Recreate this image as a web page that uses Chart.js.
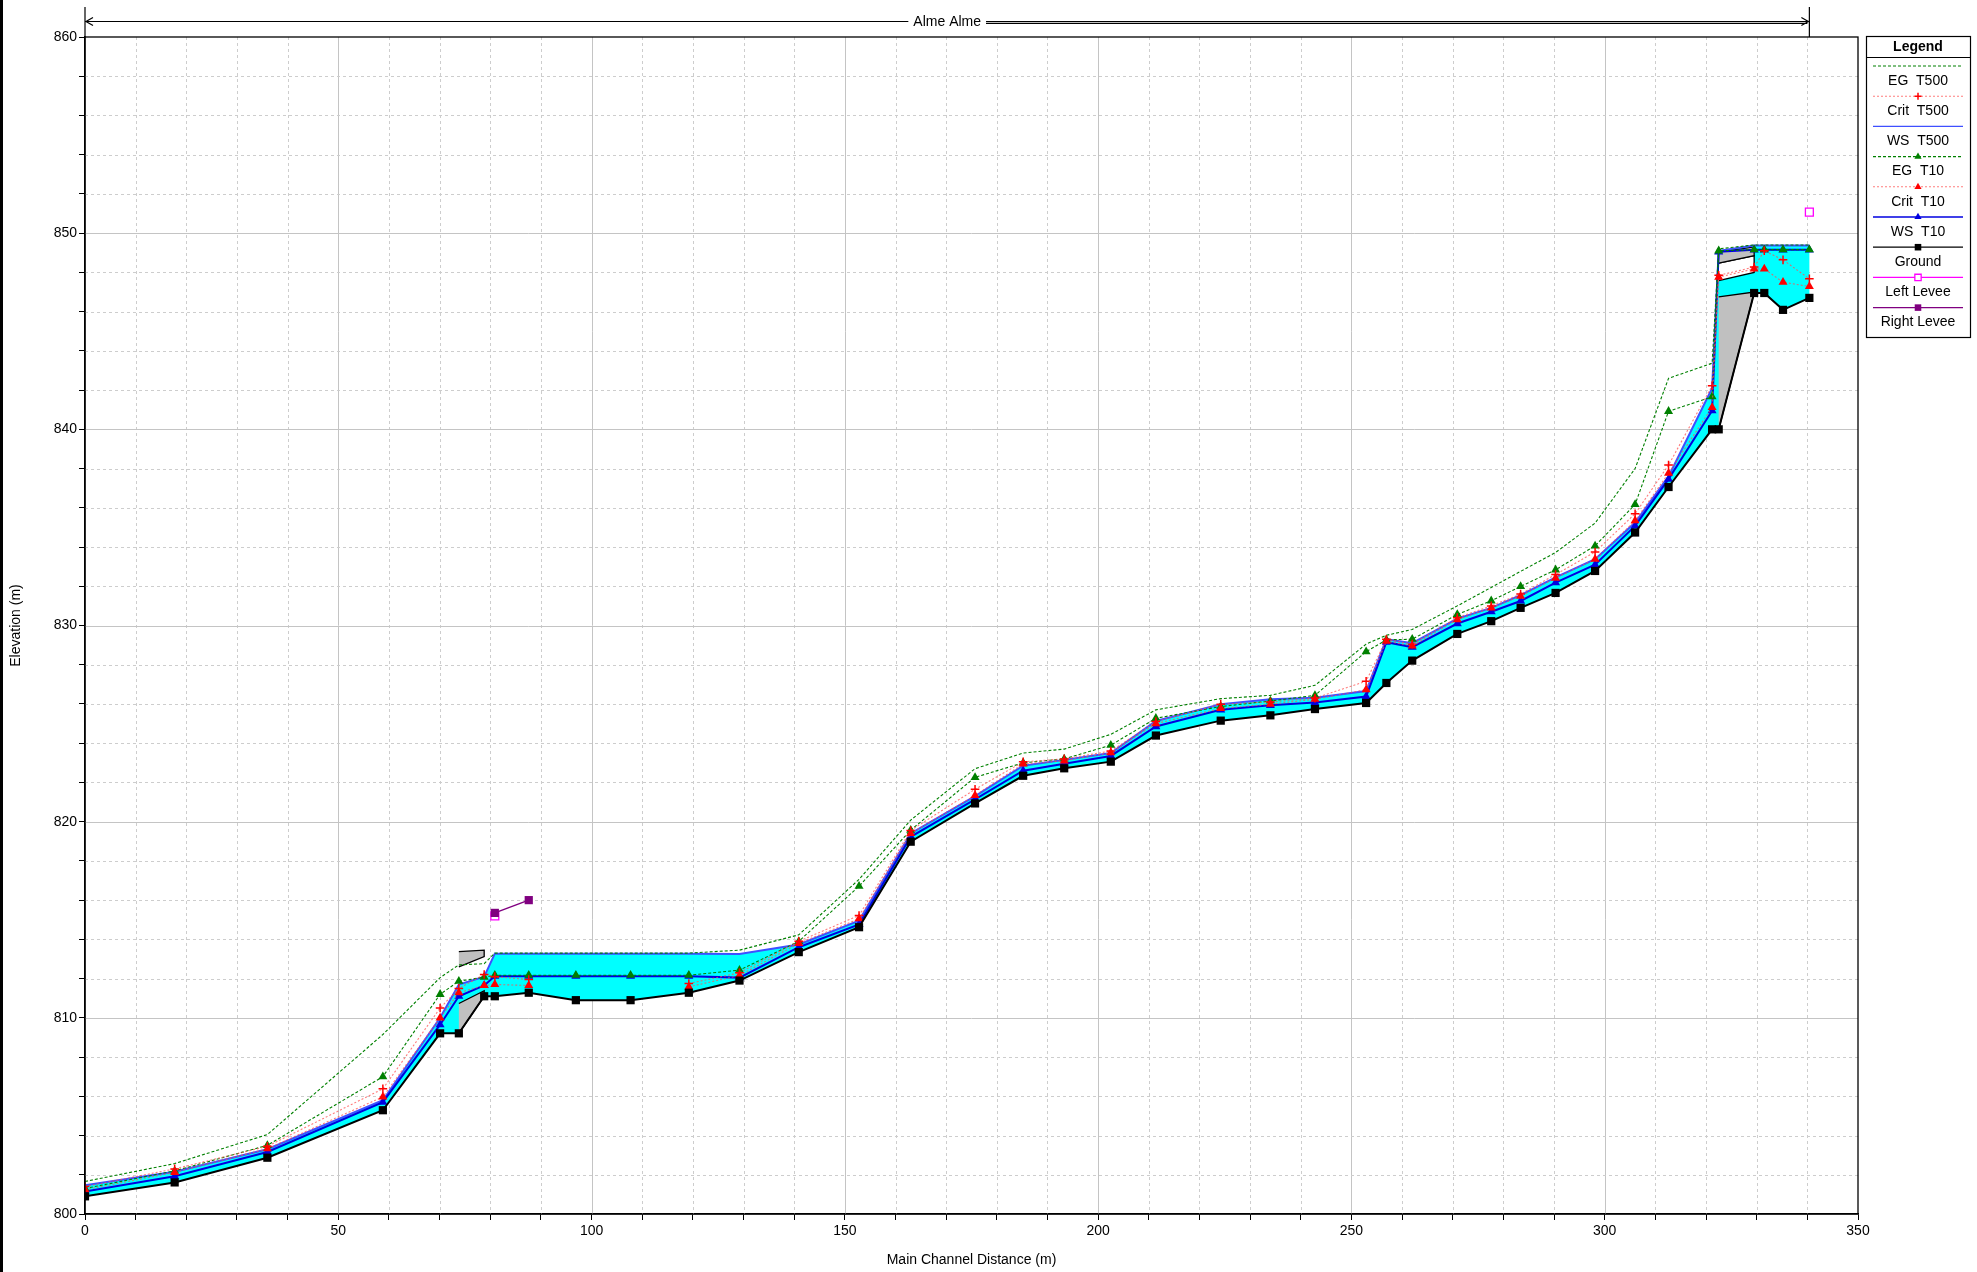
<!DOCTYPE html>
<html>
<head>
<meta charset="utf-8">
<title>Alme Alme - profile</title>
<script src="https://cdn.jsdelivr.net/npm/chart.js@4.4.1/dist/chart.umd.min.js"></script>
<style>
  html, body { margin: 0; padding: 0; background: #fff; }
  canvas { display: block; }
</style>
</head>
<body>
<canvas id="profile" width="1977" height="1272"></canvas>
<script>
// main channel stations (m) and the profile elevations at each one (m)
const stations = [0, 17.7, 36.0, 58.8, 70.1, 73.8, 78.8, 80.9, 87.6, 96.9,
  107.7, 119.2, 129.2, 140.9, 152.8, 163.0, 175.7, 185.2, 193.3, 202.5,
  211.4, 224.2, 234.0, 242.8, 252.9, 256.9, 262.0, 270.9, 277.6, 283.4,
  290.3, 298.1, 306.0, 312.6, 321.2, 322.5, 329.5, 331.5, 335.2, 340.4];

const ground = [800.9, 801.61, 802.87, 805.29, 809.21, 809.21, 811.1, 811.1, 811.28, 810.9,
  810.9, 811.28, 811.9, 813.35, 814.62, 818.98, 820.93, 822.34, 822.72, 823.06,
  824.39, 825.15, 825.42, 825.74, 826.05, 827.07, 828.21, 829.57, 830.22, 830.9,
  831.66, 832.78, 834.74, 837.06, 840.0, 840.0, 846.95, 846.95, 846.09, 846.7];

const wsT500 = [801.46, 802.15, 803.3, 805.8, 810.0, 811.7, 812.1, 813.27, 813.27, 813.27,
  813.27, 813.27, 813.25, 813.74, 814.95, 819.4, 821.3, 822.85, 823.15, 823.5,
  825.13, 825.98, 826.24, 826.32, 826.66, 829.3, 829.1, 830.35, 830.9, 831.55,
  832.45, 833.38, 835.25, 837.6, 842.1, 849.1, 849.37, 849.37, 849.37, 849.37];

const wsT10 = [801.15, 801.92, 803.16, 805.7, 809.65, 811.1, 811.65, 812.12, 812.12, 812.12,
  812.12, 812.12, 812.05, 813.6, 814.76, 819.23, 821.14, 822.6, 822.95, 823.35,
  824.85, 825.7, 825.93, 826.07, 826.38, 829.15, 828.9, 830.1, 830.7, 831.25,
  832.19, 833.1, 835.08, 837.46, 840.95, 849.05, 849.15, 849.15, 849.15, 849.15];

const critT500 = [801.4, 802.3, 803.45, 806.38, 810.5, 811.5, 812.21, 812.1, 811.95, null,
  null, 811.75, 812.3, 813.9, 815.22, 819.55, 821.65, 823.05, 823.2, 823.6,
  825.1, 825.99, 826.1, 826.3, 827.16, 829.3, 829.05, 830.4, 831.0, 831.6,
  832.6, 833.75, 835.7, 838.18, 842.22, 847.85, 848.27, 849.1, 848.64, 847.67];

const critT10 = [801.24, 802.12, 803.33, 805.97, 810.0, 811.28, 811.65, 811.7, 811.65, null,
  null, 811.58, 812.16, 813.8, 815.05, 819.4, 821.34, 822.95, 823.1, 823.52,
  825.0, 825.77, 825.99, 826.24, 826.73, 829.2, 828.96, 830.3, 830.9, 831.5,
  832.42, 833.38, 835.34, 837.76, 841.12, 847.76, 848.18, 848.18, 847.5, 847.28];

const egT500 = [801.66, 802.57, 804.05, 809.15, 812.05, 812.7, 812.76, 813.3, 813.3, 813.3,
  813.3, 813.3, 813.45, 814.23, 817.06, 820.08, 822.7, 823.5, 823.7, 824.45,
  825.7, 826.27, 826.44, 826.95, 829.05, 829.5, 829.8, 831.0, 831.94, 832.76,
  833.72, 835.22, 838.0, 842.6, 843.37, 849.2, 849.4, 849.4, 849.4, 849.4];

const egT10 = [801.3, 802.2, 803.5, 807.0, 811.2, 811.87, 812.07, 812.17, 812.17, 812.17,
  812.17, 812.17, 812.43, 813.9, 816.71, 819.57, 822.26, 823.0, 823.2, 823.9,
  825.27, 825.87, 826.15, 826.44, 828.67, 829.27, 829.3, 830.56, 831.26, 831.99,
  832.84, 834.06, 836.17, 840.92, 841.66, 849.1, 849.16, 849.16, 849.16, 849.16];

const leftLevee = [null, null, null, null, null, null, null, 815.2, null, null,
  null, null, null, null, null, null, null, null, null, null,
  null, null, null, null, null, null, null, null, null, null,
  null, null, null, null, null, null, null, null, null, 851.07];

const rightLevee = [null, null, null, null, null, null, null, 815.35, 816.0, null,
  null, null, null, null, null, null, null, null, null, null,
  null, null, null, null, null, null, null, null, null, null,
  null, null, null, null, null, null, null, null, null, null];

// bridges: face stations, deck high / low chord, fill under the deck
const bridgeFaces = [[73.8, 78.8], [322.5, 329.5]];
const deckHigh = [[813.38, 813.45], [849.03, 849.3]];
const deckLow = [[812.6, 813.12], [848.47, 848.85]];
const bridgeFloor = [[810.73, 811.38], [846.75, 847.0]];
const bridgeBed = [[809.21, 811.1], [840.0, 846.95]];
// water line inside the upstream bridge
const bridgeWater = [847.58, 848.0];

const reachName = 'Alme Alme';

const FONT = '"Liberation Sans", Arial, sans-serif';
const GREEN = '#008000', PINK = 'rgba(255,80,80,0.75)', RED = '#ff0000';
const BLUE500 = '#3f4fff', BLUE10 = '#0000e0';

const pts = (ys) => stations.map((x, i) => ({ x, y: ys[i] }));

// water area between ground and the T500 water surface
const wetArea = pts(wsT500).concat(pts(ground).reverse());

function quad(xs, top, bottom) {
  return [{ x: xs[0], y: top[0] }, { x: xs[1], y: top[1] },
          { x: xs[1], y: bottom[1] }, { x: xs[0], y: bottom[0] }];
}

const shape = (label, data, color, border) => ({
  label, data, fill: 'shape', backgroundColor: color,
  borderColor: border || 'rgba(0,0,0,0)', borderWidth: border ? 1.3 : 0,
  pointRadius: 0, tension: 0
});

const series = (label, ys, opt) => Object.assign({
  label, data: pts(ys), fill: false, tension: 0, spanGaps: false,
  borderWidth: 1.2, pointRadius: 0
}, opt);

// drawn bottom to top
const layers = [
  shape('wet', wetArea, '#00ffff'),
  shape('air', quad(bridgeFaces[1], deckLow[1], bridgeWater), '#ffffff', '#000'),
  shape('deck1', quad(bridgeFaces[0], deckHigh[0], deckLow[0]), '#c0c0c0', '#000'),
  shape('deck2', quad(bridgeFaces[1], deckHigh[1], deckLow[1]), '#c0c0c0', '#000'),
  shape('floor1', quad(bridgeFaces[0], bridgeFloor[0], bridgeBed[0]), '#c0c0c0', '#000'),
  shape('floor2', quad(bridgeFaces[1], bridgeFloor[1], bridgeBed[1]), '#c0c0c0', '#000'),
  series('WS  T500', wsT500, { borderColor: BLUE500, borderWidth: 2 }),
  series('WS  T10', wsT10, { borderColor: BLUE10, borderWidth: 2, pointStyle: 'triangle',
    pointRadius: 5.2, pointBackgroundColor: BLUE10, pointBorderColor: BLUE10, pointBorderWidth: 0 }),
  series('EG  T500', egT500, { borderColor: GREEN, borderDash: [3, 2], borderWidth: 1.1 }),
  series('EG  T10', egT10, { borderColor: GREEN, borderDash: [3, 2], borderWidth: 1.1, pointStyle: 'triangle',
    pointRadius: 5.2, pointBackgroundColor: GREEN, pointBorderColor: GREEN, pointBorderWidth: 0 }),
  series('Crit  T500', critT500, { borderColor: PINK, borderDash: [2, 2], borderWidth: 1.1, pointStyle: 'cross',
    pointRadius: 4.3, pointBorderColor: RED, pointBorderWidth: 1.5 }),
  series('Crit  T10', critT10, { borderColor: PINK, borderDash: [2, 2], borderWidth: 1.1, pointStyle: 'triangle',
    pointRadius: 5.2, pointBackgroundColor: RED, pointBorderColor: RED, pointBorderWidth: 0 }),
  series('Ground', ground, { borderColor: '#000', borderWidth: 2, pointStyle: 'rect',
    pointRadius: 5.8, pointBackgroundColor: '#000', pointBorderColor: '#000', pointBorderWidth: 0 }),
  series('Left Levee', leftLevee, { borderColor: '#ff00ff', borderWidth: 1.5, pointStyle: 'rect',
    pointRadius: 5.6, pointBackgroundColor: '#fff', pointBorderColor: '#ff00ff', pointBorderWidth: 1.3 }),
  series('Right Levee', rightLevee, { borderColor: '#800080', borderWidth: 1.5, pointStyle: 'rect',
    pointRadius: 5.8, pointBackgroundColor: '#800080', pointBorderColor: '#800080', pointBorderWidth: 0 })
];
layers.forEach((d, i) => { d.order = layers.length - i; });

// legend order
const legendOrder = ['EG  T500', 'Crit  T500', 'WS  T500', 'EG  T10', 'Crit  T10',
  'WS  T10', 'Ground', 'Left Levee', 'Right Levee'];

function marker(ctx, style, x, y, r, fill, stroke, lw) {
  ctx.save();
  ctx.beginPath();
  if (style === 'triangle') {
    let a = 0;
    ctx.moveTo(x + Math.sin(a) * r, y - Math.cos(a) * r);
    a += 2 * Math.PI / 3;
    ctx.lineTo(x + Math.sin(a) * r, y - Math.cos(a) * r);
    a += 2 * Math.PI / 3;
    ctx.lineTo(x + Math.sin(a) * r, y - Math.cos(a) * r);
    ctx.closePath();
    ctx.fillStyle = fill; ctx.fill();
  } else if (style === 'rect') {
    const s = r * Math.SQRT1_2;
    ctx.rect(x - s, y - s, 2 * s, 2 * s);
    ctx.fillStyle = fill; ctx.fill();
    if (lw) { ctx.lineWidth = lw; ctx.strokeStyle = stroke; ctx.stroke(); }
  } else if (style === 'cross') {
    ctx.moveTo(x - r, y); ctx.lineTo(x + r, y);
    ctx.moveTo(x, y - r); ctx.lineTo(x, y + r);
    ctx.lineWidth = lw; ctx.strokeStyle = stroke; ctx.stroke();
  }
  ctx.restore();
}

const frame = {
  id: 'frame',
  beforeDatasetsDraw(chart) {
    const { ctx, chartArea: a, scales: { x, y } } = chart;
    ctx.save();
    ctx.lineWidth = 1;
    x.ticks.forEach(t => {
      if (t.value <= x.min || t.value >= x.max) return;
      const px = Math.round(x.getPixelForValue(t.value)) + 0.5;
      const major = t.value % 50 === 0;
      ctx.strokeStyle = major ? '#c4c4c4' : '#cdcdcd';
      ctx.setLineDash(major ? [] : [3, 3]);
      ctx.beginPath(); ctx.moveTo(px, a.top); ctx.lineTo(px, a.bottom); ctx.stroke();
    });
    y.ticks.forEach(t => {
      if (t.value <= y.min || t.value >= y.max) return;
      const py = Math.round(y.getPixelForValue(t.value)) + 0.5;
      const major = t.value % 10 === 0;
      ctx.strokeStyle = major ? '#c4c4c4' : '#cdcdcd';
      ctx.setLineDash(major ? [] : [3, 3]);
      ctx.beginPath(); ctx.moveTo(a.left, py); ctx.lineTo(a.right, py); ctx.stroke();
    });
    ctx.restore();
  },
  afterDraw(chart) {
    const { ctx, chartArea: a, scales: { x } } = chart;
    ctx.save();
    // plot frame
    ctx.strokeStyle = '#000'; ctx.lineWidth = 1.3;
    ctx.strokeRect(a.left, a.top, a.right - a.left, a.bottom - a.top);
    // outer frame on the left edge
    ctx.fillStyle = '#000'; ctx.fillRect(0, 0, 3, chart.height);

    // reach extent with its name
    const x0 = x.getPixelForValue(stations[0]);
    const x1 = x.getPixelForValue(stations[stations.length - 1]);
    const ry = 21.5;
    const cx = (x0 + x1) / 2;
    ctx.lineWidth = 1.2;
    ctx.beginPath();
    ctx.moveTo(x0, 7); ctx.lineTo(x0, a.top);
    ctx.moveTo(x1, 7); ctx.lineTo(x1, a.top);
    ctx.moveTo(x0, ry); ctx.lineTo(x1, ry);
    ctx.moveTo(x1 - 2, ry + 1.8); ctx.lineTo(cx, ry + 1.8);
    ctx.moveTo(x0 + 8, ry - 4); ctx.lineTo(x0 + 1, ry); ctx.lineTo(x0 + 8, ry + 4);
    ctx.moveTo(x1 - 8, ry - 4); ctx.lineTo(x1 - 1, ry); ctx.lineTo(x1 - 8, ry + 4);
    ctx.stroke();
    ctx.font = '14px ' + FONT;
    ctx.textAlign = 'center'; ctx.textBaseline = 'middle';
    const tw = ctx.measureText(reachName).width;
    ctx.fillStyle = '#fff';
    ctx.fillRect(cx - tw / 2 - 5, ry - 8, tw + 10, 16);
    ctx.fillStyle = '#000';
    ctx.fillText(reachName, cx, ry + 1);

    // legend box
    const L = 1866, R = 1970, T = 36, B = 337, mid = (L + R) / 2;
    ctx.fillStyle = '#fff'; ctx.fillRect(L, T, R - L, B - T);
    ctx.strokeStyle = '#000'; ctx.lineWidth = 1.2;
    ctx.strokeRect(L + 0.5, T + 0.5, R - L, B - T);
    ctx.beginPath(); ctx.moveTo(L, 57.5); ctx.lineTo(R, 57.5); ctx.stroke();
    ctx.fillStyle = '#000';
    ctx.font = 'bold 14px ' + FONT;
    ctx.fillText('Legend', mid, 47);
    ctx.font = '14px ' + FONT;
    legendOrder.forEach((name, i) => {
      const d = layers.find(l => l.label === name);
      const ly = 66 + i * 30.2;
      ctx.save();
      ctx.strokeStyle = d.borderColor; ctx.lineWidth = Math.min(1.3, d.borderWidth);
      ctx.setLineDash(d.borderDash || []);
      ctx.beginPath(); ctx.moveTo(L + 7, ly); ctx.lineTo(R - 7, ly); ctx.stroke();
      ctx.restore();
      if (d.pointStyle) {
        marker(ctx, d.pointStyle, mid, ly, d.pointRadius * 0.8, d.pointBackgroundColor,
          d.pointBorderColor, d.pointBorderWidth);
      }
      ctx.fillStyle = '#000';
      ctx.fillText(name, mid, ly + 15);
    });
    ctx.restore();
  }
};

const tickFont = { family: FONT, size: 14 };

new Chart(document.getElementById('profile'), {
  type: 'line',
  data: { datasets: layers },
  options: {
    responsive: false,
    animation: false,
    devicePixelRatio: 1,
    events: [],
    layout: { padding: { left: 0, top: 37, right: 119, bottom: 0 } },
    plugins: {
      legend: { display: false },
      tooltip: { enabled: false }
    },
    scales: {
      x: {
        type: 'linear', min: 0, max: 350,
        afterFit: (s) => { s.height = 58; },
        ticks: {
          stepSize: 10, autoSkip: false, maxRotation: 0, padding: 3,
          color: '#000', font: tickFont,
          callback: (v) => (v % 50 === 0 ? String(v) : '')
        },
        grid: { drawOnChartArea: false, drawTicks: true, tickLength: 6, tickColor: '#000', tickWidth: 1 },
        border: { color: '#000', width: 1.5 },
        title: {
          display: true, text: 'Main Channel Distance (m)', color: '#000',
          font: tickFont, padding: { top: 0, bottom: 3 }
        }
      },
      y: {
        type: 'linear', min: 800, max: 860,
        afterFit: (s) => { s.width = 85; },
        ticks: {
          stepSize: 2, autoSkip: false, padding: 2,
          color: '#000', font: tickFont,
          callback: (v) => (v % 10 === 0 ? String(v) : '')
        },
        grid: { drawOnChartArea: false, drawTicks: true, tickLength: 6, tickColor: '#000', tickWidth: 1 },
        border: { color: '#000', width: 1.5 },
        title: {
          display: true, text: 'Elevation (m)', color: '#000',
          font: tickFont, padding: { top: 8, bottom: 0 }
        }
      }
    }
  },
  plugins: [frame]
});
</script>
</body>
</html>
